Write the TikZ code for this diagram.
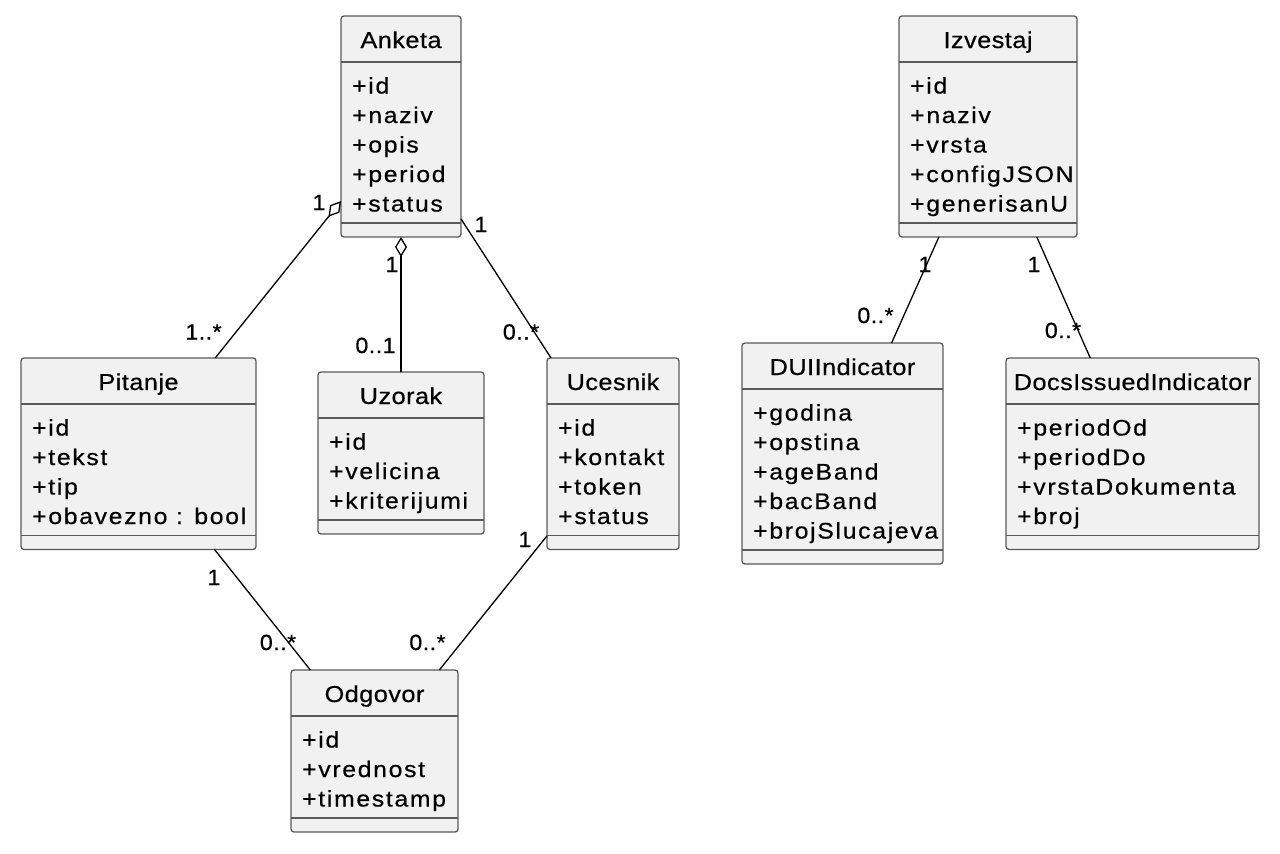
\documentclass[tikz,border=0pt]{standalone}
\usepackage{fontspec}
\setmainfont{Liberation Sans}
\newfontfamily\umltitlefont{Liberation Sans}[FakeStretch=1.1,LetterSpace=2,FakeBold=0.5]
\newfontfamily\umlattrfont{Liberation Sans}[FakeStretch=1.1,LetterSpace=7.5,FakeBold=0.5]
\newfontfamily\umlmultfont{Liberation Sans}[FakeStretch=1.06,LetterSpace=2,FakeBold=0.5]
\usetikzlibrary{arrows.meta,calc}
\definecolor{boxfill}{HTML}{F1F1F1}
\definecolor{boxline}{HTML}{5A5A5A}
\tikzset{
  classbox/.style={rectangle, draw=boxline, fill=boxfill, line width=1.3pt, rounded corners=3pt, inner sep=0pt, outer sep=0pt, anchor=north west},
  classsep/.style={draw=boxline, line width=1.3pt},
  classtitle/.style={inner sep=0pt, anchor=base, font=\umltitlefont\fontsize{23}{28}\selectfont},
  classattr/.style={inner sep=0pt, anchor=base west, font=\umlattrfont\fontsize{22.5}{28}\selectfont},
  assoc/.style={draw=black, line width=1.3pt},
  mult/.style={inner sep=0pt, anchor=base, font=\umlmultfont\fontsize{22}{26}\selectfont},
  agg/.style={{Diamond[open, length=20pt, width=12pt]}-},
}
\newcommand\umlclass[7]{%
  \pgfmathsetmacro\umlh{73.5+29.5*#5}%
  \node[classbox, minimum width=#4pt, minimum height=\umlh pt] (#1) at (#2,#3) {};
  \draw[classsep] ([yshift=-46pt]#1.north west) -- ([yshift=-46pt]#1.north east);
  \draw[classsep] ([yshift=14pt]#1.south west) -- ([yshift=14pt]#1.south east);
  \node[classtitle] (#1-title) at ([yshift=-32pt]#1.north) {#6};
  \foreach \atxt [count=\k] in {#7} {
    \node[classattr] (#1-attr\k) at ([xshift=11pt,yshift={-77.5pt-29.5pt*(\k-1)}]#1.north west) {\atxt};
  }
}
\begin{document}
\begin{tikzpicture}[x=1pt,y=-1pt]
\useasboundingbox (0,0) rectangle (1280,854);
\umlclass{anketa}{341}{16}{120}{5}{Anketa}{+id,+naziv,+opis,+period,+status}
\umlclass{pitanje}{21}{358}{235}{4}{Pitanje}{+id,+tekst,+tip,+obavezno : bool}
\umlclass{uzorak}{318}{372}{166}{3}{Uzorak}{+id,+velicina,+kriterijumi}
\umlclass{ucesnik}{547}{358}{132}{4}{Ucesnik}{+id,+kontakt,+token,+status}
\umlclass{odgovor}{291}{670}{167}{3}{Odgovor}{+id,+vrednost,+timestamp}
\umlclass{izvestaj}{899}{16}{178}{5}{Izvestaj}{+id,+naziv,+vrsta,+configJSON,+generisanU}
\umlclass{dui}{742}{343}{201}{5}{DUIIndicator}{+godina,+opstina,+ageBand,+bacBand,+brojSlucajeva}
\umlclass{docs}{1006}{358}{253}{4}{DocsIssuedIndicator}{+periodOd,+periodDo,+vrstaDokumenta,+broj}

\draw[assoc, agg] (anketa) -- (pitanje);
\draw[assoc, agg] (anketa) -- (uzorak);
\draw[assoc] (anketa) -- (ucesnik);
\draw[assoc] (pitanje) -- (odgovor);
\draw[assoc] (ucesnik) -- (odgovor);
\draw[assoc] (izvestaj) -- (dui);
\draw[assoc] (izvestaj) -- (docs);

\node[mult] (m1) at (319,210) {1};
\node[mult] (m2) at (203.5,339.5) {1..*};
\node[mult] (m3) at (392,272) {1};
\node[mult] (m4) at (375.5,353) {0..1};
\node[mult] (m5) at (481,232) {1};
\node[mult] (m6) at (521,339.5) {0..*};
\node[mult] (m7) at (214,585) {1};
\node[mult] (m8) at (278,650) {0..*};
\node[mult] (m9) at (525,547) {1};
\node[mult] (m10) at (427.5,650) {0..*};
\node[mult] (m11) at (925,272) {1};
\node[mult] (m12) at (875.5,323) {0..*};
\node[mult] (m13) at (1034,272) {1};
\node[mult] (m14) at (1063,338) {0..*};
\end{tikzpicture}
\end{document}
